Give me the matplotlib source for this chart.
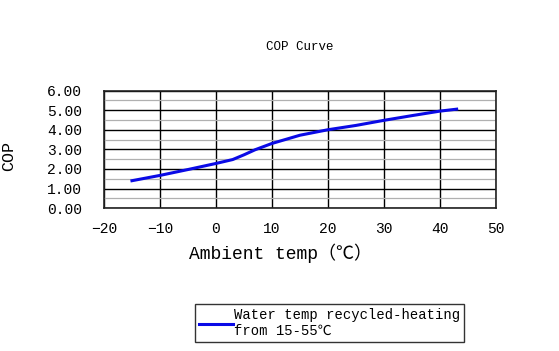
import matplotlib.pyplot as plt
from matplotlib.ticker import MultipleLocator, FormatStrFormatter

# COP vs ambient temperature
ambient_temp = [-15, -10, -5, 0, 3, 5, 7, 10, 15, 20, 25, 30, 35, 40, 43]
cop = [1.40, 1.67, 1.97, 2.28, 2.48, 2.72, 2.98, 3.30, 3.72, 4.00, 4.22, 4.48, 4.72, 4.95, 5.05]
series_label = 'Water temp recycled-heating\nfrom 15-55\u2103'

plt.rcParams['font.family'] = ['Liberation Mono', 'Noto Sans CJK SC', 'DejaVu Sans']

fig = plt.figure(figsize=(5.59, 3.51), dpi=100)
ax = fig.add_axes([0.186, 0.407, 0.701, 0.335])

ax.plot(ambient_temp, cop, color='#0a0ae6', linewidth=2.2, label=series_label)

ax.set_xlim(-20, 50)
ax.set_ylim(0, 6)
ax.xaxis.set_major_locator(MultipleLocator(10))
ax.yaxis.set_major_locator(MultipleLocator(1))
ax.yaxis.set_minor_locator(MultipleLocator(0.5))
ax.yaxis.set_major_formatter(FormatStrFormatter('%.2f'))

ax.grid(which='minor', axis='y', color='#b0b0b0', linewidth=0.9)
ax.grid(which='major', color='black', linewidth=1.0)
ax.set_axisbelow(True)
for s in ax.spines.values():
    s.set_color('#222222')
    s.set_linewidth(1.2)

ax.tick_params(which='both', length=0)
ax.tick_params(axis='y', pad=16, labelsize=10.5)
ax.tick_params(axis='x', pad=10, labelsize=10.5)

ax.set_xlabel('Ambient temp\uff08\u2103\uff09', fontsize=13)
ax.xaxis.set_label_coords(0.45, -0.3)
ax.set_ylabel('COP', fontsize=12)
ax.yaxis.set_label_coords(-0.225, 0.44)

fig.text(0.537, 0.866, 'COP Curve', ha='center', va='center', fontsize=9)

leg = ax.legend(loc='upper left', bbox_to_anchor=(0.349, 0.134),
                bbox_transform=fig.transFigure, fontsize=10, frameon=True,
                fancybox=False, handlelength=2.4, handletextpad=0.1,
                borderpad=0.3, borderaxespad=0)
leg.get_frame().set_edgecolor('black')
leg.get_frame().set_linewidth(1.0)

plt.savefig('out.png', dpi=100)
plt.close()
